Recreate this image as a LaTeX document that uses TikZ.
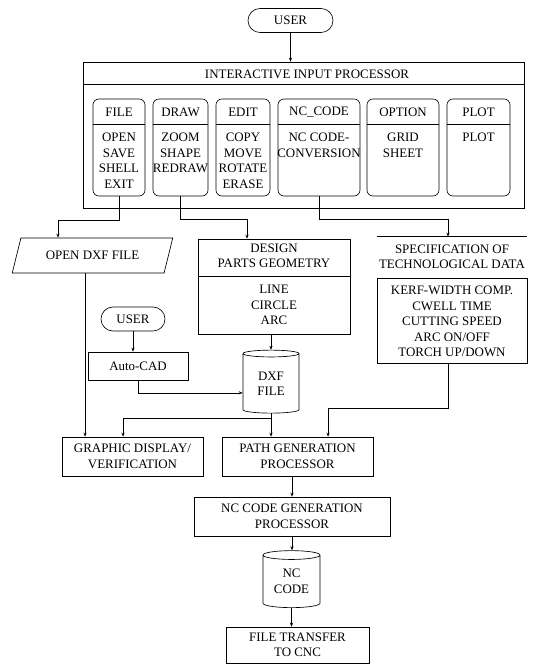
\documentclass[tikz,border=0pt]{standalone}
\usepackage{fontspec}
\setmainfont{Liberation Serif}
\usetikzlibrary{shapes.geometric,arrows.meta}

\tikzset{
  txt/.style={align=center, inner sep=0pt, font=\fontsize{9.7}{11.6}\selectfont},
  box/.style={draw, txt},
  oval/.style={box, rounded corners=9pt, minimum height=18pt},
  menubox/.style={box, rounded corners=4.5pt, minimum height=72.75pt},
  disk/.style={box, cylinder, shape border rotate=90, aspect=0.25},
  flow/.style={-{Stealth[length=3pt,width=2.4pt]}}
}

\begin{document}
\begin{tikzpicture}[x=0.75pt,y=-0.75pt,line width=0.5pt]
        \useasboundingbox (0,0) rectangle (533,664);

        \draw (290.5,20.5) node[oval, minimum width=63.75pt](user) {USER};
        \draw (303.5,135) node[box, minimum width=330.75pt, minimum height=109.5pt](iip) {};
        \draw (307,74) node[txt](iiptitle) {INTERACTIVE INPUT PROCESSOR};
        \draw ([yshift=-17.25pt]iip.north west) -- ([yshift=-17.25pt]iip.north east);

        \foreach \n/\cx/\mw/\ttl/\itm in {mfile/119/39/FILE/{OPEN\\SAVE\\SHELL\\EXIT},
            mdraw/180.5/41.25/DRAW/{ZOOM\\SHAPE\\REDRAW},
            medit/243/40.5/EDIT/{COPY\\MOVE\\ROTATE\\ERASE},
            mnc/319/61.5/NC\_CODE/{NC CODE-\\CONVERSION},
            mopt/403/54/OPTION/{GRID\\SHEET},
            mplot/478.5/47.25/PLOT/{PLOT}}
        {
            \draw (\cx,147.5) node[menubox, minimum width=\mw pt](\n) {};
            \draw (\cx,112) node[txt](\n-t) {\ttl};
            \draw (\cx,133) node[txt, anchor=north](\n-b) {\itm};
            \draw ([yshift=-19.5pt]\n.north west) -- ([yshift=-19.5pt]\n.north east);
        }

        \draw (92.5,255.5) node[box, trapezium, trapezium left angle=57, trapezium right angle=123,
            trapezium stretches=true, minimum width=120.75pt, minimum height=26.25pt](open) {OPEN DXF FILE};

        \draw (274,286.5) node[box, minimum width=114pt, minimum height=71.25pt](design) {};
        \draw ([yshift=-28.5pt]design.north west) -- ([yshift=-28.5pt]design.north east);
        \draw (274,256) node[txt](design-t) {DESIGN\\PARTS GEOMETRY};
        \draw (274,285) node[txt, anchor=north](design-b) {LINE\\CIRCLE\\ARC};

        \draw (452,320.5) node[box, minimum width=112.5pt, minimum height=63.75pt](spec) {};
        \draw (452,286) node[txt, anchor=north](spec-b) {KERF-WIDTH COMP.\\CWELL TIME\\CUTTING SPEED\\ARC ON/OFF\\TORCH UP/DOWN};
        \draw (452,257) node[txt, minimum width=112.5pt, minimum height=27pt](spechead) {SPECIFICATION OF\\TECHNOLOGICAL DATA};
        \draw ([yshift=1.5pt]spechead.north west) -- ([yshift=1.5pt]spechead.north east);

        \draw (133,319) node[oval, minimum width=48pt](user2) {USER};
        \draw (138,366) node[box, minimum width=75pt, minimum height=21pt](autocad) {Auto-CAD};
        \draw (271,383.5) node[disk, minimum width=42pt, minimum height=47.25pt](dxf) {DXF\\FILE};

        \draw (132.5,456.5) node[box, minimum width=105.75pt, minimum height=29.25pt](graphic) {GRAPHIC DISPLAY/\\VERIFICATION};
        \draw (297.5,456.5) node[box, minimum width=113.25pt, minimum height=29.25pt](pathgen) {PATH GENERATION\\PROCESSOR};
        \draw (292,516.5) node[box, minimum width=147pt, minimum height=29.25pt](ncgen) {NC CODE GENERATION\\PROCESSOR};
        \draw (291.5,581.5) node[disk, minimum width=42.75pt, minimum height=42.75pt](nccode) {NC\\CODE};
        \draw (297.5,645) node[box, minimum width=107.25pt, minimum height=27pt](transfer) {FILE TRANSFER\\TO CNC};

        \draw[flow] (user.south) -- (user.south |- iip.north);
        \draw[flow] (mfile.south) -- ++(0,24) -| ([xshift=-25.9pt]open.north);
        \draw[flow] (mdraw.south) -- ++(0,23) -| ([xshift=-20.25pt]design.north);
        \draw[flow] (mnc.south) -- ++(0,23) -| ([xshift=-3pt,yshift=1.5pt]spechead.north);
        \draw[flow] (user2.south) -- (user2.south |- autocad.north);
        \draw[flow] (autocad.south) |- ([yshift=-7pt]dxf.west);
        \draw[flow] (design.south -| dxf.north) -- (dxf.north);
        \draw[flow] ([xshift=-5.6pt]open.south) -- ([xshift=-5.6pt]open.south |- graphic.north);
        \draw[flow] (dxf.south) -- ++(0,5) -| ([xshift=-7.1pt]graphic.north);
        \draw[flow] (dxf.south) -- (dxf.south |- pathgen.north);
        \draw[flow] ([xshift=-3pt]spec.south) -- ++(0,45) -| ([xshift=22.9pt]pathgen.north);
        \draw[flow] (ncgen.north |- pathgen.south) -- (ncgen.north);
        \draw[flow] (ncgen.south) -- (ncgen.south |- nccode.north);
        \draw[flow] (nccode.south) -- (nccode.south |- transfer.north);
\end{tikzpicture}
\end{document}
